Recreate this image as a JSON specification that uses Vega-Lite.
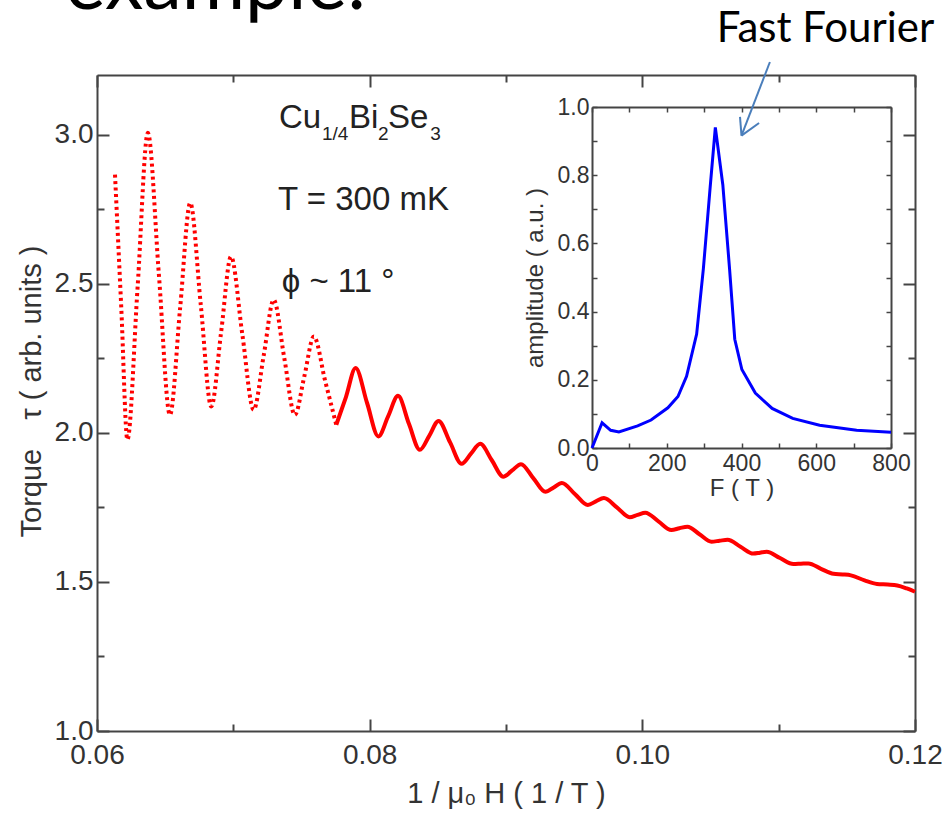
{
  "$schema": "https://vega.github.io/schema/vega-lite/v6.json",
  "width": 818,
  "height": 656,
  "autosize": "none",
  "padding": {"left": 97, "top": 75, "right": 27, "bottom": 86},
  "background": "white",
  "config": {
    "view": {"stroke": null},
    "axis": {
      "labelFont": "Liberation Sans",
      "titleFont": "Liberation Sans",
      "labelColor": "#333333",
      "titleColor": "#333333",
      "titleFontWeight": "normal",
      "domainColor": "#444444",
      "tickColor": "#444444",
      "grid": false,
      "labelFlush": false,
      "labelOverlap": false,
      "labelBound": false
    }
  },
  "datasets": {
    "torque": [
      {"x": 0.06132, "y": 2.866}, {"x": 0.06178, "y": 2.42}, {"x": 0.06223, "y": 1.977},
      {"x": 0.06298, "y": 2.49}, {"x": 0.06373, "y": 3.006}, {"x": 0.06454, "y": 2.53},
      {"x": 0.06535, "y": 2.06}, {"x": 0.0661, "y": 2.42}, {"x": 0.06684, "y": 2.771},
      {"x": 0.06761, "y": 2.43}, {"x": 0.06838, "y": 2.088}, {"x": 0.06911, "y": 2.34},
      {"x": 0.06983, "y": 2.591}, {"x": 0.07066, "y": 2.33}, {"x": 0.07149, "y": 2.077},
      {"x": 0.07223, "y": 2.26}, {"x": 0.07296, "y": 2.446}, {"x": 0.07374, "y": 2.25},
      {"x": 0.07451, "y": 2.06}, {"x": 0.07521, "y": 2.19}, {"x": 0.07591, "y": 2.323},
      {"x": 0.07673, "y": 2.175}, {"x": 0.07755, "y": 2.027}, {"x": 0.07826, "y": 2.12},
      {"x": 0.07897, "y": 2.217}, {"x": 0.07981, "y": 2.1}, {"x": 0.08064, "y": 1.988},
      {"x": 0.08136, "y": 2.056}, {"x": 0.08208, "y": 2.124}, {"x": 0.08288, "y": 2.03},
      {"x": 0.08368, "y": 1.943}, {"x": 0.08437, "y": 1.99}, {"x": 0.08505, "y": 2.04},
      {"x": 0.0859, "y": 1.968}, {"x": 0.08674, "y": 1.896}, {"x": 0.08743, "y": 1.93},
      {"x": 0.08811, "y": 1.963}, {"x": 0.08896, "y": 1.908}, {"x": 0.0898, "y": 1.853},
      {"x": 0.09045, "y": 1.874}, {"x": 0.0911, "y": 1.895}, {"x": 0.092, "y": 1.848},
      {"x": 0.09289, "y": 1.802}, {"x": 0.0935, "y": 1.817}, {"x": 0.0941, "y": 1.832},
      {"x": 0.09505, "y": 1.795}, {"x": 0.096, "y": 1.758}, {"x": 0.09659, "y": 1.77},
      {"x": 0.09718, "y": 1.781}, {"x": 0.09813, "y": 1.75}, {"x": 0.09907, "y": 1.717},
      {"x": 0.09965, "y": 1.725}, {"x": 0.10022, "y": 1.732}, {"x": 0.10118, "y": 1.703},
      {"x": 0.10213, "y": 1.674}, {"x": 0.10272, "y": 1.68}, {"x": 0.10331, "y": 1.685},
      {"x": 0.10419, "y": 1.66}, {"x": 0.10507, "y": 1.635}, {"x": 0.10566, "y": 1.638},
      {"x": 0.10625, "y": 1.641}, {"x": 0.1072, "y": 1.618}, {"x": 0.10814, "y": 1.595},
      {"x": 0.10863, "y": 1.598}, {"x": 0.10912, "y": 1.601}, {"x": 0.1101, "y": 1.58},
      {"x": 0.11108, "y": 1.56}, {"x": 0.11163, "y": 1.561}, {"x": 0.11218, "y": 1.562},
      {"x": 0.1131, "y": 1.544}, {"x": 0.11402, "y": 1.527}, {"x": 0.1147, "y": 1.525},
      {"x": 0.1153, "y": 1.522}, {"x": 0.1163, "y": 1.505}, {"x": 0.11721, "y": 1.493},
      {"x": 0.118, "y": 1.491}, {"x": 0.1187, "y": 1.488}, {"x": 0.1194, "y": 1.478},
      {"x": 0.12, "y": 1.467}
    ],
    "fft": [
      {"f": 0, "a": 0}, {"f": 27, "a": 0.074}, {"f": 50, "a": 0.052}, {"f": 72, "a": 0.047},
      {"f": 122, "a": 0.065}, {"f": 158, "a": 0.082}, {"f": 203, "a": 0.118}, {"f": 230, "a": 0.151},
      {"f": 253, "a": 0.21}, {"f": 280, "a": 0.334}, {"f": 298, "a": 0.526}, {"f": 316, "a": 0.763},
      {"f": 330, "a": 0.94}, {"f": 350, "a": 0.772}, {"f": 368, "a": 0.526}, {"f": 382, "a": 0.319},
      {"f": 401, "a": 0.23}, {"f": 437, "a": 0.161}, {"f": 482, "a": 0.116}, {"f": 537, "a": 0.087},
      {"f": 609, "a": 0.067}, {"f": 708, "a": 0.052}, {"f": 800, "a": 0.046}
    ],
    "arrow": [
      {"f1": 476, "a1": 1.132, "f2": 400, "a2": 0.916},
      {"f1": 400, "a1": 0.916, "f2": 396, "a2": 0.971},
      {"f1": 400, "a1": 0.916, "f2": 447, "a2": 0.953}
    ],
    "bigtext": [
      {"x": 0.07335, "y": 3.0225, "t": "Cu"},
      {"x": 0.07848, "y": 3.0225, "t": "Bi"},
      {"x": 0.08135, "y": 3.0225, "t": "Se"},
      {"x": 0.07328, "y": 2.746, "t": "T = 300 mK"},
      {"x": 0.07355, "y": 2.472, "t": "ϕ ~ 11 °"}
    ],
    "subtext": [
      {"x": 0.0765, "y": 2.983, "t": "1/4"},
      {"x": 0.08061, "y": 2.981, "t": "2"},
      {"x": 0.08445, "y": 2.981, "t": "3"}
    ],
    "slide": [
      {"x": 0.10545, "y": 3.31, "t": "Fast Fourier"}
    ],
    "heading": [
      {"x": 0.05765, "y": 3.4213, "t": "example:"}
    ]
  },
  "layer": [
    {
      "data": {"name": "torque"},
      "transform": [{"filter": "datum.x <= 0.07756"}],
      "mark": {"type": "line", "color": "#ff0000", "strokeWidth": 4, "strokeDash": [3, 3.5], "interpolate": "monotone"},
      "encoding": {
        "x": {"field": "x", "type": "quantitative", "scale": {"domain": [0.06, 0.12], "nice": false, "zero": false},
          "axis": {"orient": "bottom", "values": [0.06, 0.08, 0.1, 0.12], "format": ".2f", "tickSize": -12, "tickWidth": 2,
            "labelPadding": 22, "labelFontSize": 28, "domainWidth": 2,
            "title": "1 / μ₀ H ( 1 / T )", "titleFontSize": 29, "titlePadding": 10}},
        "y": {"field": "y", "type": "quantitative", "scale": {"domain": [1, 3.2], "nice": false, "zero": false},
          "axis": {"orient": "left", "values": [1, 1.5, 2, 2.5, 3], "format": ".1f", "tickSize": -12, "tickWidth": 2,
            "labelPadding": 16, "labelFontSize": 28, "domainWidth": 2,
            "title": "Torque\u2002\u2002τ ( arb. units )", "titleFontSize": 29, "titlePadding": 8, "titleY": 316}}
      }
    },
    {
      "data": {"name": "torque"},
      "transform": [{"filter": "datum.x >= 0.07754"}],
      "mark": {"type": "line", "color": "#ff0000", "strokeWidth": 4, "interpolate": "monotone"},
      "encoding": {
        "x": {"field": "x", "type": "quantitative", "scale": {"domain": [0.06, 0.12], "nice": false, "zero": false},
          "axis": {"orient": "bottom", "values": [0.07, 0.09, 0.11], "tickSize": -7, "tickWidth": 2, "labels": false, "domain": false, "title": null}},
        "y": {"field": "y", "type": "quantitative", "scale": {"domain": [1, 3.2], "nice": false, "zero": false},
          "axis": {"orient": "left", "values": [1.25, 1.75, 2.25, 2.75], "tickSize": -7, "tickWidth": 2, "labels": false, "domain": false, "title": null}}
      }
    },
    {
      "data": {"name": "torque"},
      "mark": {"type": "point", "opacity": 0},
      "encoding": {
        "x": {"field": "x", "type": "quantitative", "scale": {"domain": [0.06, 0.12], "nice": false, "zero": false},
          "axis": {"orient": "top", "values": [0.06, 0.08, 0.1, 0.12], "tickSize": -12, "tickWidth": 2, "labels": false, "domainWidth": 2, "title": null}},
        "y": {"field": "y", "type": "quantitative", "scale": {"domain": [1, 3.2], "nice": false, "zero": false},
          "axis": {"orient": "right", "values": [1, 1.5, 2, 2.5, 3], "tickSize": -12, "tickWidth": 2, "labels": false, "domainWidth": 2, "title": null}}
      }
    },
    {
      "data": {"name": "torque"},
      "mark": {"type": "point", "opacity": 0},
      "encoding": {
        "x": {"field": "x", "type": "quantitative", "scale": {"domain": [0.06, 0.12], "nice": false, "zero": false},
          "axis": {"orient": "top", "values": [0.07, 0.09, 0.11], "tickSize": -7, "tickWidth": 2, "labels": false, "domain": false, "title": null}},
        "y": {"field": "y", "type": "quantitative", "scale": {"domain": [1, 3.2], "nice": false, "zero": false},
          "axis": {"orient": "right", "values": [1.25, 1.75, 2.25, 2.75], "tickSize": -7, "tickWidth": 2, "labels": false, "domain": false, "title": null}}
      }
    },
    {
      "data": {"name": "fft"},
      "mark": {"type": "line", "color": "#0000ff", "strokeWidth": 3},
      "encoding": {
        "x": {"field": "f", "type": "quantitative", "scale": {"domain": [0, 800], "range": [495, 794], "nice": false, "zero": false},
          "axis": {"orient": "bottom", "offset": -283, "values": [0, 200, 400, 600, 800], "format": "d", "tickSize": -5, "tickWidth": 1.5,
            "labelPadding": 9, "labelFontSize": 23, "domainWidth": 2,
            "title": "F ( T )", "titleFontSize": 24, "titlePadding": 1}},
        "y": {"field": "a", "type": "quantitative", "scale": {"domain": [0, 1], "range": [373, 32], "nice": false, "zero": false},
          "axis": {"orient": "left", "offset": -495, "values": [0, 0.2, 0.4, 0.6, 0.8, 1], "format": ".1f", "tickSize": -5, "tickWidth": 1.5,
            "labelPadding": 8, "labelFontSize": 23, "domainWidth": 2,
            "title": "amplitude ( a.u. )", "titleFontSize": 24, "titlePadding": 10}}
      }
    },
    {
      "data": {"name": "fft"},
      "mark": {"type": "point", "opacity": 0},
      "encoding": {
        "x": {"field": "f", "type": "quantitative", "scale": {"domain": [0, 800], "range": [495, 794], "nice": false, "zero": false},
          "axis": {"orient": "bottom", "offset": -283, "values": [100, 300, 500, 700], "tickSize": -5, "tickWidth": 1.5, "labels": false, "domain": false, "title": null}},
        "y": {"field": "a", "type": "quantitative", "scale": {"domain": [0, 1], "range": [373, 32], "nice": false, "zero": false},
          "axis": {"orient": "left", "offset": -495, "values": [0.1, 0.3, 0.5, 0.7, 0.9], "tickSize": -5, "tickWidth": 1.5, "labels": false, "domain": false, "title": null}}
      }
    },
    {
      "data": {"name": "fft"},
      "mark": {"type": "point", "opacity": 0},
      "encoding": {
        "x": {"field": "f", "type": "quantitative", "scale": {"domain": [0, 800], "range": [495, 794], "nice": false, "zero": false},
          "axis": {"orient": "top", "offset": -32, "values": [0, 100, 200, 300, 400, 500, 600, 700, 800], "tickSize": -5, "tickWidth": 1.5, "labels": false, "domainWidth": 2, "title": null}},
        "y": {"field": "a", "type": "quantitative", "scale": {"domain": [0, 1], "range": [373, 32], "nice": false, "zero": false},
          "axis": {"orient": "right", "offset": -24, "values": [0, 0.1, 0.2, 0.3, 0.4, 0.5, 0.6, 0.7, 0.8, 0.9, 1], "tickSize": -5, "tickWidth": 1.5, "labels": false, "domainWidth": 2, "title": null}}
      }
    },
    {
      "data": {"name": "arrow"},
      "mark": {"type": "rule", "color": "#4a7ebb", "strokeWidth": 2},
      "encoding": {
        "x": {"field": "f1", "type": "quantitative", "scale": {"domain": [0, 800], "range": [495, 794], "nice": false, "zero": false}, "axis": null},
        "y": {"field": "a1", "type": "quantitative", "scale": {"domain": [0, 1], "range": [373, 32], "nice": false, "zero": false}, "axis": null},
        "x2": {"field": "f2"},
        "y2": {"field": "a2"}
      }
    },
    {
      "data": {"name": "bigtext"},
      "mark": {"type": "text", "font": "Liberation Sans", "fontSize": 33, "align": "left", "baseline": "alphabetic", "color": "#222222"},
      "encoding": {
        "x": {"field": "x", "type": "quantitative", "scale": {"domain": [0.06, 0.12], "nice": false, "zero": false}, "axis": null},
        "y": {"field": "y", "type": "quantitative", "scale": {"domain": [1, 3.2], "nice": false, "zero": false}, "axis": null},
        "text": {"field": "t"}
      }
    },
    {
      "data": {"name": "subtext"},
      "mark": {"type": "text", "font": "Liberation Sans", "fontSize": 19, "align": "left", "baseline": "alphabetic", "color": "#222222"},
      "encoding": {
        "x": {"field": "x", "type": "quantitative", "scale": {"domain": [0.06, 0.12], "nice": false, "zero": false}, "axis": null},
        "y": {"field": "y", "type": "quantitative", "scale": {"domain": [1, 3.2], "nice": false, "zero": false}, "axis": null},
        "text": {"field": "t"}
      }
    },
    {
      "data": {"name": "slide"},
      "mark": {"type": "text", "font": "Lato", "fontSize": 42, "align": "left", "baseline": "alphabetic", "color": "#000000"},
      "encoding": {
        "x": {"field": "x", "type": "quantitative", "scale": {"domain": [0.06, 0.12], "nice": false, "zero": false}, "axis": null},
        "y": {"field": "y", "type": "quantitative", "scale": {"domain": [1, 3.2], "nice": false, "zero": false}, "axis": null},
        "text": {"field": "t"}
      }
    },
    {
      "data": {"name": "heading"},
      "mark": {"type": "text", "font": "Lato", "fontSize": 77, "align": "left", "baseline": "alphabetic", "color": "#000000"},
      "encoding": {
        "x": {"field": "x", "type": "quantitative", "scale": {"domain": [0.06, 0.12], "nice": false, "zero": false}, "axis": null},
        "y": {"field": "y", "type": "quantitative", "scale": {"domain": [1, 3.2], "nice": false, "zero": false}, "axis": null},
        "text": {"field": "t"}
      }
    }
  ],
  "resolve": {"scale": {"x": "independent", "y": "independent"}}
}
